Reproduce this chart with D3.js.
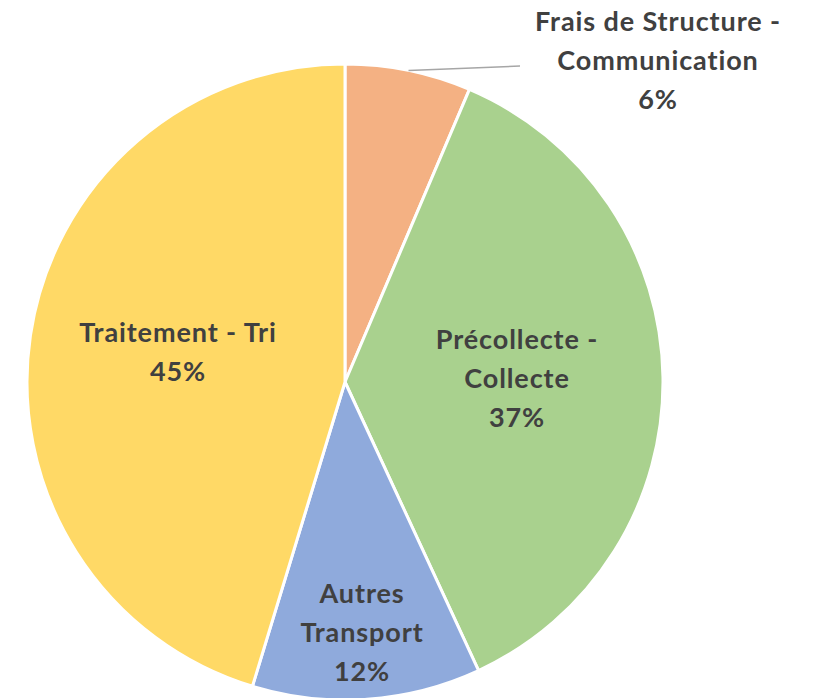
<!DOCTYPE html>
<html>
<head>
<meta charset="utf-8">
<title>Répartition des coûts</title>
<script src="https://d3js.org/d3.v7.min.js"></script>
<style>
  body { margin: 0; background: #fff; }
  text { font-family: Lato, "Open Sans", sans-serif; font-weight: 700; fill: #404040; letter-spacing: 0.9px; }
</style>
</head>
<body>
<div id="chart"></div>
<script>
// data (order: clockwise from 12 o'clock)
var categories = ["Frais de Structure - Communication", "Précollecte - Collecte", "Autres Transport", "Traitement - Tri"];
var values = [6.4, 36.7, 11.6, 45.3];
var percentLabels = ["6%", "37%", "12%", "45%"];
var labelLines = [["Frais de Structure -", "Communication"], ["Précollecte -", "Collecte"], ["Autres", "Transport"], ["Traitement - Tri"]];
var colors = ["#F4B183", "#A9D18E", "#8FAADC", "#FFD966"];

var width = 815, height = 698;
var cx = 345, cy = 382, radius = 318;

var svg = d3.select("#chart").append("svg")
    .attr("width", width)
    .attr("height", height);

var g = svg.append("g").attr("transform", "translate(" + cx + "," + cy + ")");

var pie = d3.pie().sort(null).value(function(d) { return d; });
var arcs = pie(values);

var arc = d3.arc().innerRadius(0).outerRadius(radius);

g.selectAll("path")
    .data(arcs)
    .enter().append("path")
    .attr("d", arc)
    .attr("fill", function(d, i) { return colors[i]; })
    .attr("stroke", "#fff")
    .attr("stroke-width", 3)
    .attr("stroke-linejoin", "round");

// label positions relative to center (x, y of first line centre)
var labelPos = [[313, -360], [172, -42], [17, 212], [-167, -49]];
var lineH = 39;

// leader line for the small slice
var a0 = arcs[0];
var mid = (a0.startAngle + a0.endAngle) / 2;
var p0 = [Math.sin(mid) * radius, -Math.cos(mid) * radius];
g.append("polyline")
    .attr("points", [p0, [175, -316]].map(function(p) { return p.join(","); }).join(" "))
    .attr("fill", "none")
    .attr("stroke", "#A6A6A6")
    .attr("stroke-width", 1.5);

arcs.forEach(function(d, i) {
  var lines = labelLines[i].concat([percentLabels[i]]);
  var t = g.append("text")
      .attr("text-anchor", "middle")
      .attr("font-size", 27);
  lines.forEach(function(s, j) {
    t.append("tspan")
      .attr("x", labelPos[i][0])
      .attr("y", labelPos[i][1] + j * lineH)
      .attr("dy", "0.35em")
      .text(s);
  });
});
</script>
</body>
</html>
